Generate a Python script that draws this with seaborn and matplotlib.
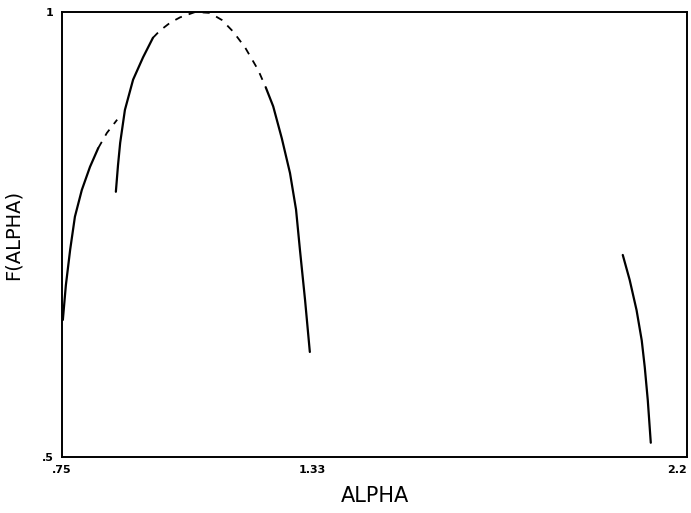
import pandas as pd
import seaborn as sns
import matplotlib.pyplot as plt

# left branch (lower part solid, upper part broken)
left_alpha = [0.752, 0.759, 0.769, 0.780, 0.796, 0.815, 0.834]
left_f = [0.654, 0.693, 0.733, 0.770, 0.800, 0.826, 0.847]
left_top_alpha = [0.834, 0.854, 0.878]
left_top_f = [0.847, 0.864, 0.879]

# main arc
arc_alpha = [0.875, 0.880, 0.885, 0.896, 0.915, 0.938, 0.961]
arc_f = [0.798, 0.828, 0.853, 0.890, 0.924, 0.949, 0.971]
arc_top_alpha = [0.961, 0.977, 1.001, 1.024, 1.059, 1.093, 1.121, 1.147, 1.175, 1.205, 1.223]
arc_top_f = [0.971, 0.979, 0.988, 0.994, 1.000, 0.999, 0.991, 0.978, 0.960, 0.935, 0.915]
arc_right_alpha = [1.223, 1.240, 1.260, 1.279, 1.293, 1.302, 1.314, 1.325]
arc_right_f = [0.915, 0.894, 0.858, 0.819, 0.778, 0.733, 0.676, 0.618]

# right branch
right_alpha = [2.051, 2.067, 2.083, 2.095, 2.102, 2.109, 2.116]
right_f = [0.727, 0.699, 0.665, 0.631, 0.601, 0.564, 0.516]

x_ticks = [0.75, 1.33, 2.2]
x_tick_labels = ['.75', '1.33', '2.2']
y_ticks = [0.5, 1.0]
y_tick_labels = ['.5', '1']

sns.set_style('white')
plt.rcParams['font.family'] = ['DejaVu Sans']

fig = plt.figure(figsize=(6.91, 5.13), dpi=100)
ax = fig.add_axes([0.0897, 0.1092, 0.9045, 0.8674])

solid = [(left_alpha, left_f), (arc_alpha, arc_f), (arc_right_alpha, arc_right_f),
         (right_alpha, right_f)]
broken = [(left_top_alpha, left_top_f), (arc_top_alpha, arc_top_f)]

for a, f in solid:
    df = pd.DataFrame({'alpha': a, 'f': f})
    sns.lineplot(data=df, x='alpha', y='f', sort=False, color='black', linewidth=1.6, ax=ax)
for a, f in broken:
    df = pd.DataFrame({'alpha': a, 'f': f})
    sns.lineplot(data=df, x='alpha', y='f', sort=False, color='black', linewidth=1.3,
                 linestyle=(0, (4, 4)), ax=ax)

ax.set_xlim(0.75, 2.2)
ax.set_ylim(0.5, 1.0)
ax.set_xticks(x_ticks)
ax.set_xticklabels(x_tick_labels, fontsize=8, fontweight='bold', color='black')
# keep the last label inside the figure
ax.get_xticklabels()[-1].set_ha('right')
ax.set_yticks(y_ticks)
ax.set_yticklabels(y_tick_labels, fontsize=8, fontweight='bold', color='black')
ax.tick_params(length=0, pad=6)

for s in ax.spines.values():
    s.set_color('black')
    s.set_linewidth(1.4)

ax.set_xlabel('ALPHA', fontsize=15, labelpad=8, color='black')
ax.set_ylabel('F(ALPHA)', fontsize=14, labelpad=14, color='black')

fig.savefig('out.png', dpi=100)
